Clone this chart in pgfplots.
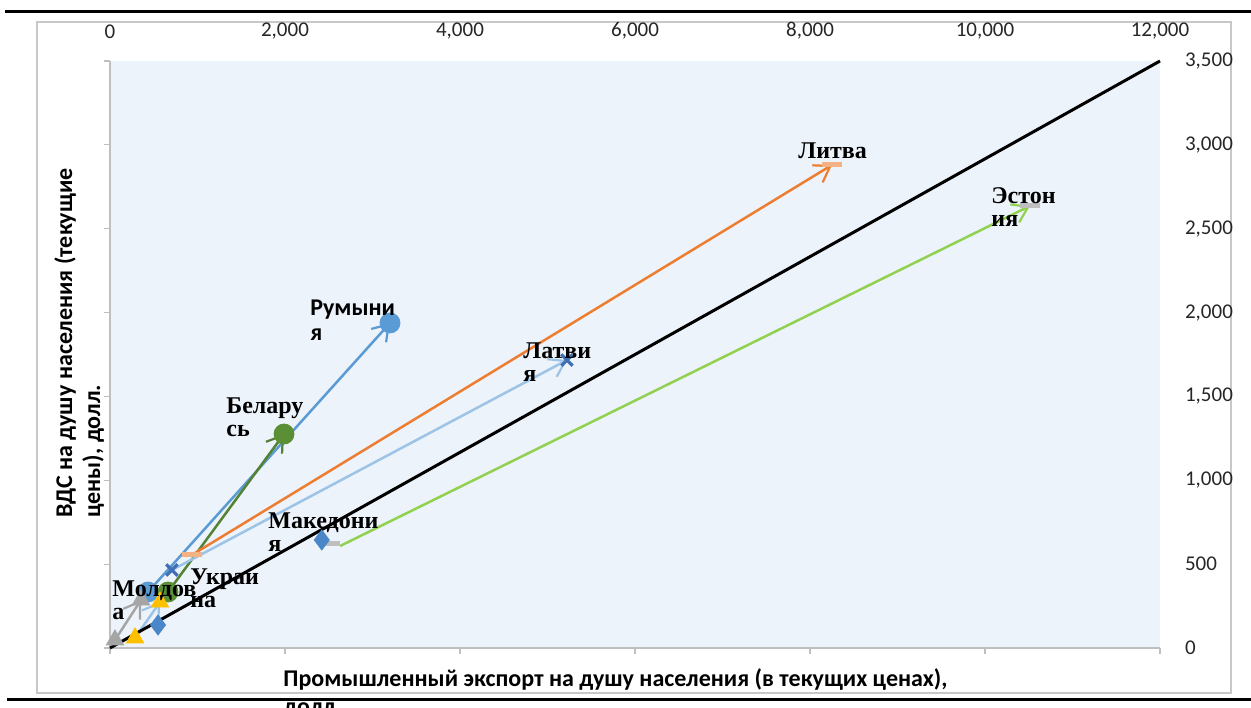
\documentclass[border=0pt]{standalone}
\usepackage{pgfplots}
\pgfplotsset{compat=1.18}
\usepackage{fontspec}
\setmainfont{Carlito}
\newfontfamily\serifb{Liberation Serif}
\usetikzlibrary{arrows.meta}
\definecolor{bg}{HTML}{EDF3FA}
\definecolor{axgray}{HTML}{BFBFBF}
\definecolor{frgray}{HTML}{C8C8C8}
\definecolor{cblue}{HTML}{5B9BD5}
\definecolor{corange}{HTML}{ED7D31}
\definecolor{csalmon}{HTML}{F4B183}
\definecolor{cgreenl}{HTML}{92D050}
\definecolor{cgrayd}{HTML}{BFBFBF}
\definecolor{clblue}{HTML}{9DC3E6}
\definecolor{cdblue}{HTML}{3F6FB5}
\definecolor{cdgreen}{HTML}{548235}
\definecolor{cgreenm}{HTML}{5A8F35}
\definecolor{cdiam}{HTML}{4A86C8}
\definecolor{cgold}{HTML}{FFC000}
\definecolor{cgray}{HTML}{A5A5A5}
\begin{document}
\begin{tikzpicture}
% frame
\draw[frgray, line width=0.6pt] (18.5pt,7pt) rectangle (615.5pt,342.5pt);
\begin{axis}[
  at={(55pt,29.5pt)}, anchor=south west,
  width=525pt, height=293.5pt, scale only axis,
  xmin=0, xmax=12000, ymin=0, ymax=3500,
  xtick={0,2000,...,12000}, ytick={0,500,...,3500},
  xtick pos=bottom, ytick pos=left,
  xticklabel pos=top, yticklabel pos=right,
  tick align=outside, major tick length=3pt,
  tick style={color=axgray, line width=0.6pt},
  axis line style={draw=none},
  axis background/.style={fill=bg},
  scaled ticks=false,
  /pgf/number format/.cd, 1000 sep={,}, assume math mode=true,
  /pgfplots/.cd,
  ticklabel style={font=\fontsize{10.5}{12}\selectfont, text=black!85},
  xticklabel style={yshift=4.5pt},
  yticklabel style={xshift=6pt},
  clip=false,
  arr/.style={line width=1.25pt, -{Straight Barb[length=7.5pt,width=10pt,line width=1.1pt]}},
]
\draw[axgray, line width=0.6pt] (rel axis cs:0,1) -- (rel axis cs:0,0) -- (rel axis cs:1,0);
% markers
\addplot[only marks, mark=*, mark size=5pt, color=cblue] coordinates {(434,334) (3200,1938)};
\addplot[only marks, mark=*, mark size=5pt, color=cgreenm] coordinates {(663,334) (1989,1276)};
\addplot[only marks, mark=-, mark size=5pt, mark options={line width=2.5pt}, color=csalmon] coordinates {(937,555) (8251,2880)};
\addplot[only marks, mark=-, mark size=5pt, mark options={line width=2.5pt}, color=cgrayd] coordinates {(2514,626) (10514,2636)};
\addplot[only marks, mark=x, mark size=4pt, mark options={line width=1.6pt}, color=cdblue] coordinates {(708,465) (5223,1717)};
\addplot[only marks, mark=diamond*, mark size=5pt, color=cdiam] coordinates {(549,137) (2420,644)};
\addplot[only marks, mark=triangle*, mark size=5pt, color=cgold] coordinates {(286,60) (571,274)};
\addplot[only marks, mark=triangle*, mark size=5pt, color=cgray] coordinates {(57,48) (354,286)};
% arrows
\addplot[arr, color=cblue] coordinates {(434,334) (3200,1938)};
\addplot[arr, color=cdgreen] coordinates {(663,334) (1989,1276)};
\addplot[arr, color=corange] coordinates {(937,555) (8251,2880)};
\addplot[arr, color=cgreenl] coordinates {(2629,608) (10514,2636)};
\addplot[arr, color=clblue] coordinates {(708,465) (5223,1717)};
\addplot[arr, color=clblue] coordinates {(286,60) (571,274)};
\addplot[arr, color=cgray] coordinates {(57,48) (354,286)};
% diagonal
\addplot[black, line width=1.5pt] coordinates {(0,0) (12000,3500)};
% label anchors
\coordinate (lLit) at (axis cs:7863,3017);
\coordinate (lEst) at (axis cs:10069,2749);
\coordinate (lLat) at (axis cs:4720,1825);
\coordinate (lBel) at (axis cs:1326,1497);
\coordinate (lMak) at (axis cs:1806,811);
\coordinate (lUkr) at (axis cs:914,477);
\coordinate (lMol) at (axis cs:23,406);
\coordinate (lRum) at (axis cs:2286,2075);
\end{axis}
% labels (on top of everything)
\begin{scope}[every node/.style={anchor=north west, inner sep=0pt, align=left, font=\serifb\bfseries\fontsize{12}{11.5}\selectfont}]
\node at (lLit) {Литва};
\node at (lEst) {Эстон\\ия};
\node at (lLat) {Латви\\я};
\node at (lBel) {Белару\\сь};
\node at (lMak) {Македони\\я};
\node at (lUkr) {Украи\\на};
\node at (lMol) {Молдов\\а};
\node[font=\bfseries\fontsize{12}{12.5}\selectfont] at (lRum) {Румыни\\я};
\end{scope}
% axis titles
\node[rotate=90, anchor=base west, inner sep=0pt, font=\bfseries\fontsize{12}{14}\selectfont] at (36pt,94.5pt) {ВДС на душу населения (текущие};
\node[rotate=90, anchor=base west, inner sep=0pt, font=\bfseries\fontsize{12}{14}\selectfont] at (50pt,94.5pt) {цены), долл.};
\node[anchor=base west, inner sep=0pt, font=\bfseries\fontsize{12}{14}\selectfont] at (141.5pt,10.5pt) {Промышленный экспорт на душу населения (в текущих ценах),};
\node[anchor=base west, inner sep=0pt, font=\bfseries\fontsize{12}{14}\selectfont] at (141.5pt,-3.8pt) {долл.};
% page rules
\draw[black, line width=1.5pt] (2.5pt,347.5pt) -- (625.5pt,347.5pt);
\draw[black, line width=1.5pt] (3.5pt,4pt) -- (625.5pt,4pt);
\pgfresetboundingbox
\useasboundingbox (0,0) rectangle (625.5pt,353.5pt);
\end{tikzpicture}
\end{document}
